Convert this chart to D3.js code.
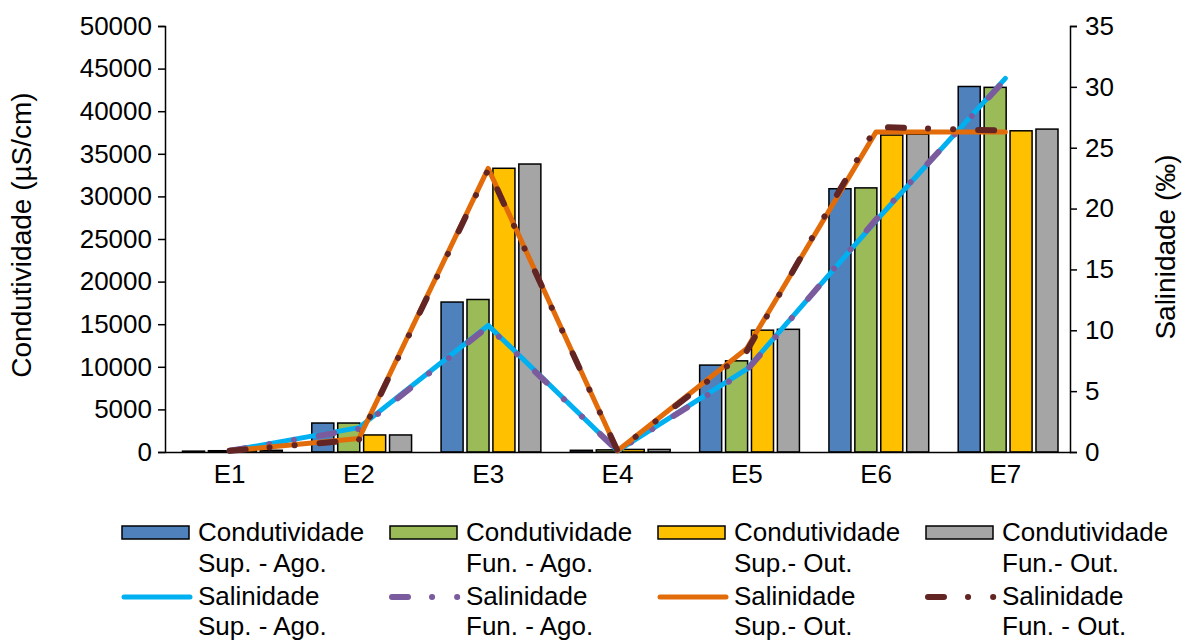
<!DOCTYPE html>
<html><head><meta charset="utf-8">
<script src="https://cdn.jsdelivr.net/npm/d3@7"></script>
<style>
html,body{margin:0;padding:0;background:#fff;}
svg{display:block;font-family:"Liberation Sans",Arial,sans-serif;}
</style></head>
<body>
<svg id="chart" width="1185" height="641"></svg>
<script>
const categories = ["E1","E2","E3","E4","E5","E6","E7"];
const condSupAgo = [100, 3400, 17600, 200, 10200, 30900, 42900];
const condFunAgo = [150, 3400, 17900, 250, 10700, 31000, 42800];
const condSupOut = [200, 2000, 33300, 300, 14300, 37200, 37700];
const condFunOut = [200, 2000, 33800, 300, 14400, 37300, 37900];
const salSupAgo = [0.1, 2.0, 10.4, 0.1, 6.8, 19.0, 30.7];
const salFunAgo = [0.1, 1.9, 10.3, 0.1, 6.7, 19.1, 30.6];
const salSupOut = [0.1, 1.1, 23.3, 0.1, 8.5, 26.3, 26.3];
const salFunOut = [0.1, 1.0, 23.2, 0.1, 8.3, 26.7, 26.4];
const leftTicks = [0,5000,10000,15000,20000,25000,30000,35000,40000,45000,50000];
const rightTicks = [0,5,10,15,20,25,30,35];

const barSeries = [
  {name:["Condutividade","Sup. - Ago."], values:condSupAgo, color:"#4F81BD"},
  {name:["Condutividade","Fun. - Ago."], values:condFunAgo, color:"#9BBB59"},
  {name:["Condutividade","Sup.- Out."], values:condSupOut, color:"#FFC000"},
  {name:["Condutividade","Fun.- Out."], values:condFunOut, color:"#A5A5A5"}
];
const dashPat = "16,24,0.1,25,0.1,25";
const lineSeries = [
  {name:["Salinidade","Sup. - Ago."], values:salSupAgo, color:"#00B0F0", width:5, dash:null},
  {name:["Salinidade","Fun. - Ago."], values:salFunAgo, color:"#7A5C9E", width:6, dash:dashPat},
  {name:["Salinidade","Sup.- Out."], values:salSupOut, color:"#E36C0A", width:5, dash:null},
  {name:["Salinidade","Fun. - Out."], values:salFunOut, color:"#632523", width:6, dash:dashPat}
];

const svg = d3.select("#chart");
const L = 165, R = 1070, T = 26, B = 452;

const x = d3.scaleBand().domain(categories).range([L, R]).padding(0);
const x1 = d3.scaleBand().domain(d3.range(4)).range([17.5, x.bandwidth()-12]).paddingInner(0.15).paddingOuter(0);
const yL = d3.scaleLinear().domain([0, 50000]).range([B, T]);
const yR = d3.scaleLinear().domain([0, 35]).range([B, T]);

// bars
barSeries.forEach((s, i) => {
  svg.append("g").selectAll("rect").data(s.values).join("rect")
    .attr("x", (d, j) => x(categories[j]) + x1(i))
    .attr("width", x1.bandwidth())
    .attr("y", d => yL(d))
    .attr("height", d => B - yL(d))
    .attr("fill", s.color)
    .attr("stroke", "#000")
    .attr("stroke-width", 1.5);
});

// axes
const fs = 26;
const axL = d3.axisLeft(yL).tickValues(leftTicks).tickSize(7).tickPadding(6).tickFormat(d3.format("d"));
const gL = svg.append("g").attr("transform", `translate(${L},0)`).call(axL);
const axR = d3.axisRight(yR).tickValues(rightTicks).tickSize(7).tickPadding(8).tickFormat(d3.format("d"));
const gR = svg.append("g").attr("transform", `translate(${R},0)`).call(axR);
const axB = d3.axisBottom(x).tickSize(0).tickPadding(10);
const gB = svg.append("g").attr("transform", `translate(0,${B})`).call(axB);
[gL, gR, gB].forEach(g => {
  g.selectAll("path.domain").attr("stroke", "#000").attr("stroke-width", 1.5);
  g.selectAll(".tick line").attr("stroke", "#000").attr("stroke-width", 1.5);
  g.selectAll("text").attr("font-size", fs).attr("fill", "#000").attr("font-family", "Liberation Sans, Arial, sans-serif");
});
gB.selectAll("text").attr("dy", "0.8em");

// lines
const line = d3.line().x((d, j) => x(categories[j]) + x.bandwidth()/2).y(d => yR(d));
lineSeries.forEach(s => {
  const p = svg.append("path").datum(s.values)
    .attr("d", line)
    .attr("fill", "none")
    .attr("stroke", s.color)
    .attr("stroke-width", s.width)
    .attr("stroke-linecap", "round")
    .attr("stroke-linejoin", "round");
  if (s.dash) p.attr("stroke-dasharray", s.dash);
});

// axis titles
svg.append("text").attr("transform", "translate(31,235) rotate(-90)")
  .attr("text-anchor", "middle").attr("font-size", 28).text("Condutividade (µS/cm)");
svg.append("text").attr("transform", "translate(1175,247) rotate(-90)")
  .attr("text-anchor", "middle").attr("font-size", 28).text("Salinidade (‰)");

// legend
const colX = [122, 390, 658, 926];
const leg = svg.append("g").attr("font-size", fs);
barSeries.forEach((s, i) => {
  const g = leg.append("g").attr("transform", `translate(${colX[i]},0)`);
  g.append("rect").attr("x", 0).attr("y", 526).attr("width", 67).attr("height", 13)
    .attr("fill", s.color).attr("stroke", "#000").attr("stroke-width", 1.5);
  g.append("text").attr("x", 76).attr("y", 541).text(s.name[0]);
  g.append("text").attr("x", 76).attr("y", 572).text(s.name[1]);
});
lineSeries.forEach((s, i) => {
  const g = leg.append("g").attr("transform", `translate(${colX[i]},0)`);
  const l = g.append("line").attr("x1", 2).attr("x2", 68).attr("y1", 597).attr("y2", 597)
    .attr("stroke", s.color).attr("stroke-width", s.width).attr("stroke-linecap", "round");
  if (s.dash) l.attr("stroke-dasharray", dashPat);
  g.append("text").attr("x", 76).attr("y", 605).text(s.name[0]);
  g.append("text").attr("x", 76).attr("y", 635).text(s.name[1]);
});
</script>
</body></html>
